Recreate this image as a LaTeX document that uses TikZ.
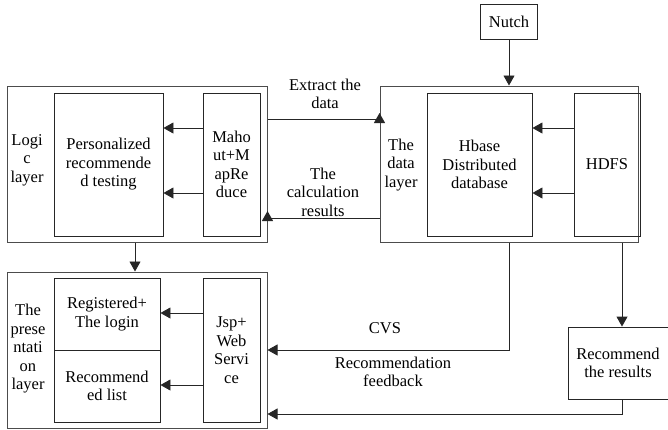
\documentclass[tikz,border=0pt]{standalone}
\usepackage{fontspec}
\setmainfont{Liberation Serif}[Extension=.ttf, UprightFont=LiberationSerif-Regular, BoldFont=LiberationSerif-Bold]
\usetikzlibrary{arrows.meta}
\begin{document}
\begin{tikzpicture}[x=1pt,y=-1pt,
  every node/.style={font=\rmfamily\fontsize{16.5}{18.5}\selectfont, align=center, inner sep=0pt},
  layer/.style={draw=black!70, line width=1pt, minimum width=#1, minimum height=156},
  block/.style n args={2}{draw=black!85, line width=0.9pt, minimum width=#1, minimum height=#2},
  arr/.style={draw=black!85, line width=0.9pt, -{Triangle[length=10pt,width=11pt]}},
  line/.style={draw=black!85, line width=0.9pt}]
\useasboundingbox (0,0) rectangle (668,429);

% ---- logic layer ----
\node[layer=260] (logic) at (137,164) {};
\node (logiclbl) at (27,160) {Logi\\c\\layer};
\node[block={109}{143}] (pers) at (108.5,164.5) {Personalized\\recommende\\d testing};
\node[block={57}{143}] (mahout) at (231.5,164.5) {Maho\\ut+M\\apRe\\duce};

% ---- data layer ----
\node[layer=258] (data) at (509,164) {};
\node (datalbl) at (401,165) {The\\data\\layer};
\node[block={105}{143}] (hbase) at (479.5,164.5) {Hbase\\Distributed\\database};
\node[block={66}{143}] (hdfs) at (607,164.5) {HDFS};
\node[block={57}{35}] (nutch) at (509,21.5) {Nutch};

% ---- presentation layer ----
\node[layer=260] (pres) at (137,350) {};
\node (preslbl) at (28,349) {The\\prese\\ntati\\on\\layer};
\node[block={106}{72}] (reg) at (107,314) {Registered+\\The login};
\node[block={106}{72}] (rlist) at (107,386) {Recommend\\ed list};
\node[block={57}{144}] (jsp) at (231.5,350) {Jsp+\\Web\\Servi\\ce};

% ---- results box ----
\node[block={108}{72}] (rec) at (622,363) {\hspace*{-8pt}Recommend\\\hspace*{-8pt}the results};

% ---- connectors inside layers ----
\foreach \yy in {128,193} {
  \draw[arr] (mahout.west |- 0,\yy) -- (pers.east |- 0,\yy);
  \draw[arr] (hdfs.west |- 0,\yy) -- (hbase.east |- 0,\yy);
}
\foreach \yy in {313,385} {
  \draw[arr] (jsp.west |- 0,\yy) -- (reg.east |- 0,\yy);
}

% ---- connectors between layers ----
\draw[arr] (nutch.south) -- (data.north);
\draw[arr] (logic.south -| 135,0) -- (pres.north -| 135,0);

\coordinate (ex1) at (logic.east |- 0,119);
\coordinate (ex2) at (data.west |- 0,119);
\draw[line] (ex1) -- (ex2);
\draw[arr] (ex2) -- ++(0,-6);
\node (extract) at (325,94) {Extract the\\data};

\coordinate (cr1) at (data.west |- 0,218);
\coordinate (cr2) at (logic.east |- 0,218);
\draw[line] (cr1) -- (cr2);
\draw[arr] (cr2) -- ++(0,-7);
\node (calc) at (323,192) {The\\calculation\\results};

\draw[arr] (data.south) |- (pres.east |- 0,350);
\node (cvs) at (385,328) {CVS};
\node (feedback) at (393,372) {Recommendation\\feedback};

\draw[arr] (data.south -| rec.north) -- (rec.north);
\draw[arr] (rec.south) |- (pres.east |- 0,414);
\end{tikzpicture}
\end{document}
